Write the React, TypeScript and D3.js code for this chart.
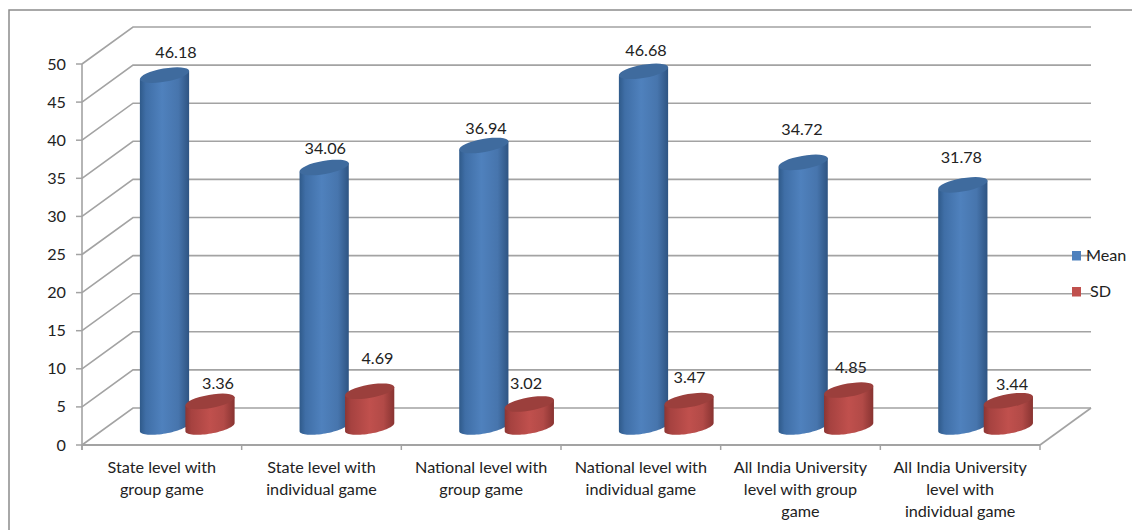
import React from "react";
import * as d3 from "d3";

const categories = [
  ["State level with", "group game"],
  ["State level with", "individual game"],
  ["National level with", "group game"],
  ["National level with", "individual game"],
  ["All India University", "level with group", "game"],
  ["All India University", "level with", "individual game"],
];
const meanValues = [46.18, 34.06, 36.94, 46.68, 34.72, 31.78];
const sdValues = [3.36, 4.69, 3.02, 3.47, 4.85, 3.44];
const yTicks = [0, 5, 10, 15, 20, 25, 30, 35, 40, 45, 50];
const seriesNames = ["Mean", "SD"];

const W = 1132, H = 530;
const x0 = 82, x1 = 1040, y0 = 445, y50 = 64;
const dx = 51, dy = -37;
const font = "Lato, 'Open Sans', sans-serif";
const fs = 16.2;
const ink = "#222";
const grid = "#a3a3a3";

const y = d3.scaleLinear().domain([0, 50]).range([y0, y50]);
const xBand = d3.scaleBand<number>().domain(d3.range(6)).range([x0, x1]);
const xSeries = d3.scalePoint<number>().domain([0, 1]).range([82.5, 128]);

const rx = 25, ry = 6.6, tilt = -10;
const baseShift = -18;

// label nudges relative to each cylinder's top
const meanNudgeX = [11.5, 1.1, 2.2, 2.5, -1.2, -1.5];
const meanNudgeY = [-16.8, -13.5, -11.5, -15.3, -27.4, -21.5];
const sdNudgeX = [8, 7.8, -3.3, 0.5, 2.3, 3.7];
const sdNudgeY = [-12.7, -27.3, -15, -17.9, -17, -10.8];

const outline = d3.line<[number, number]>().x((d) => d[0]).y((d) => d[1]);
const thetas = d3.range(0, 37).map((k) => Math.PI - (k * Math.PI) / 36);

function ellipsePoint(cx: number, cy: number, th: number): [number, number] {
  const t = (tilt * Math.PI) / 180;
  return [
    cx + rx * Math.cos(th) * Math.cos(t) - ry * Math.sin(th) * Math.sin(t),
    cy + rx * Math.cos(th) * Math.sin(t) + ry * Math.sin(th) * Math.cos(t),
  ];
}

function Cylinder({ cx, value, id, top }: { cx: number; value: number; id: string; top: string }) {
  const by = y(0) + baseShift;
  const ty = y(value) + baseShift;
  const pts: [number, number][] = thetas.map((th) => ellipsePoint(cx, by, th));
  pts.push(ellipsePoint(cx, ty, 0), ellipsePoint(cx, ty, Math.PI));
  return (
    <g>
      <path d={outline(pts) + "Z"} fill={`url(#${id})`} />
      <ellipse cx={cx} cy={ty} rx={rx} ry={ry} transform={`rotate(${tilt} ${cx} ${ty})`} fill={top} />
    </g>
  );
}

export default function App() {
  const backX0 = x0 + dx, backX1 = x1 + dx;
  const blueCx = (i: number) => xBand(i)! + xSeries(0)!;
  const redCx = (i: number) => xBand(i)! + xSeries(1)!;
  return (
    <svg width={W} height={H} style={{ position: "absolute", left: 0, top: 0 }}>
      <defs>
        <linearGradient id="blueG" x1="0" x2="1" y1="0" y2="0">
          <stop offset="0" stopColor="#2f5a8a" />
          <stop offset="0.12" stopColor="#3f6ea6" />
          <stop offset="0.45" stopColor="#4f81bd" />
          <stop offset="0.78" stopColor="#4775ad" />
          <stop offset="1" stopColor="#2e5482" />
        </linearGradient>
        <linearGradient id="redG" x1="0" x2="1" y1="0" y2="0">
          <stop offset="0" stopColor="#8c3533" />
          <stop offset="0.12" stopColor="#a64240" />
          <stop offset="0.5" stopColor="#c0504d" />
          <stop offset="0.78" stopColor="#b24a47" />
          <stop offset="1" stopColor="#883331" />
        </linearGradient>
      </defs>
      <rect x={0} y={0} width={W} height={H} fill="#fff" />
      <path d={`M9,${H} V10 H${W}`} fill="none" stroke="#8c8c8c" strokeWidth={1.5} />
      {yTicks.map((t) => (
        <g key={t}>
          <path
            d={`M${x0},${y(t)} L${backX0},${y(t) + dy} H${backX1}`}
            fill="none"
            stroke={grid}
            strokeWidth={1.6}
          />
          <line x1={x0 - 6} x2={x0} y1={y(t)} y2={y(t)} stroke={grid} strokeWidth={1.5} />
          <text x={66} y={y(t) + 5.5} textAnchor="end" fontFamily={font} fontSize={fs} fill={ink}>{t}</text>
        </g>
      ))}
      <line x1={x0} x2={x0} y1={y(50)} y2={y(0) + 5} stroke={grid} strokeWidth={1.6} />
      <line x1={x0} x2={x1} y1={y0} y2={y0} stroke={grid} strokeWidth={1.8} />
      <line x1={x1} x2={backX1} y1={y0} y2={y0 + dy} stroke={grid} strokeWidth={1.6} />
      {d3.range(7).map((i) => {
        const px = x0 + i * xBand.bandwidth();
        return <line key={i} x1={px} x2={px} y1={y0} y2={y0 + 5} stroke={grid} strokeWidth={1.5} />;
      })}
      {categories.map((_, i) => (
        <g key={i}>
          <Cylinder cx={blueCx(i)} value={meanValues[i]} id="blueG" top="#3f6b9e" />
          <Cylinder cx={redCx(i)} value={sdValues[i]} id="redG" top="#9b3f3c" />
        </g>
      ))}
      {categories.map((lines, i) => (
        <g key={i}>
          <text x={blueCx(i) + meanNudgeX[i]} y={y(meanValues[i]) + baseShift + meanNudgeY[i]} textAnchor="middle" fontFamily={font} fontSize={fs} fill={ink}>
            {meanValues[i].toFixed(2)}
          </text>
          <text x={redCx(i) + sdNudgeX[i]} y={y(sdValues[i]) + baseShift + sdNudgeY[i]} textAnchor="middle" fontFamily={font} fontSize={fs} fill={ink}>
            {sdValues[i].toFixed(2)}
          </text>
          {lines.map((l, j) => (
            <text key={j} x={xBand(i)! + xBand.bandwidth() / 2} y={473 + j * 22} textAnchor="middle" fontFamily={font} fontSize={fs} fill={ink}>
              {l}
            </text>
          ))}
        </g>
      ))}
      {seriesNames.map((n, i) => (
        <g key={n}>
          <rect x={1072} y={251 + i * 36} width={9} height={9.5} fill={i === 0 ? "#4f81bd" : "#c0504d"} />
          <text x={i === 0 ? 1086 : 1090} y={261 + i * 36} fontFamily={font} fontSize={fs} fill={ink}>{n}</text>
        </g>
      ))}
    </svg>
  );
}
